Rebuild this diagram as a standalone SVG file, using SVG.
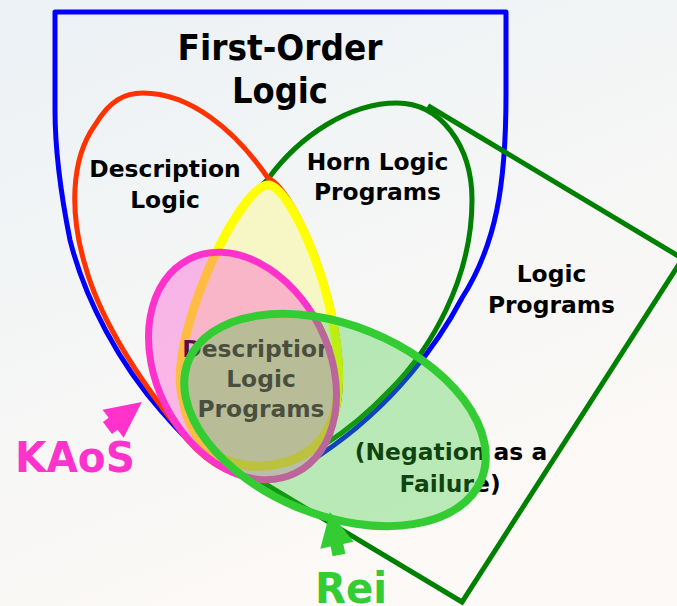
<svg xmlns="http://www.w3.org/2000/svg" width="677" height="606" viewBox="0 0 677 606">
  <defs>
    <!-- page background; shared by shapes that must hide what lies beneath them -->
    <linearGradient id="bg" gradientUnits="userSpaceOnUse" x1="0" y1="0" x2="240" y2="606">
      <stop offset="0" stop-color="#ecf1f5"/>
      <stop offset="0.45" stop-color="#f3f5f5"/>
      <stop offset="1" stop-color="#fcf9f6"/>
    </linearGradient>
    <!-- everything except the KAoS ellipse: outlines stop at its rim -->
    <clipPath id="outside-kaos">
      <path clip-rule="evenodd"
            d="M-10 -10 H690 V620 H-10 Z
               M295.8 473 A86.5 119.5 -26.5 1 1 189.2 259 A86.5 119.5 -26.5 1 1 295.8 473 Z"/>
    </clipPath>
    <style>
      .lbl { font-family: "DejaVu Sans", Verdana, sans-serif; font-weight: bold; text-anchor: middle; fill: #000; }
      .big { font-size: 36px; }
      .mid { font-size: 23.4px; }
      .tag { font-family: "DejaVu Sans", Verdana, sans-serif; font-weight: bold; font-size: 43px; }
      .outline { fill: none; stroke-linejoin: round; }
    </style>
  </defs>

  <rect x="0" y="0" width="677" height="606" fill="url(#bg)"/>

  <!-- First-Order Logic: shield shape -->
  <g id="first-order-logic">
    <path class="outline" stroke="#0000ff" stroke-width="5" stroke-linejoin="miter" clip-path="url(#outside-kaos)"
          d="M55 12 L506 12 L506 95
             C506 185 496 245 462 298
             C440 340 395 405 320 455
             C298 469 282 480 256 479
             C224 477 192 447 163 413
             C120 365 85 300 70 240
             C60 190 55 150 55 110 Z"/>
    <text class="lbl big" x="280" y="60" textLength="205" lengthAdjust="spacingAndGlyphs">First-Order</text>
    <text class="lbl big" x="280" y="103" textLength="96" lengthAdjust="spacingAndGlyphs">Logic</text>
  </g>

  <!-- Logic Programs: tilted rectangle -->
  <g id="logic-programs">
    <polygon points="430,107 682.6,258.6 462,602 209.4,450.4" fill="none" stroke="#008000" stroke-width="5"
             clip-path="url(#outside-kaos)"/>
    <text class="lbl mid" x="551.5" y="282">Logic</text>
    <text class="lbl mid" x="551.5" y="313">Programs</text>
    <text class="lbl mid" x="451" y="460">(Negation as a</text>
    <text class="lbl mid" x="450" y="492">Failure)</text>
  </g>

  <!-- Horn Logic Programs -->
  <g id="horn-logic-programs">
    <path fill="url(#bg)" stroke="#008000" stroke-width="5" clip-path="url(#outside-kaos)"
          d="M397 103 C440 103 472 145 472 200
             C472 280 430 350 390 390
             C350 432 300 466 264 468
             C226 470 192 452 183 400
             C165 340 232 212 268 179
             C300 135 350 103 397 103 Z"/>
    <text class="lbl mid" x="377.5" y="170">Horn Logic</text>
    <text class="lbl mid" x="377.5" y="200">Programs</text>
  </g>

  <!-- Description Logic -->
  <g id="description-logic">
    <path class="outline" stroke="#ff3300" stroke-width="5" clip-path="url(#outside-kaos)"
          d="M143 93 C190 93 235 130 268 178
             C296 190 346 310 340 390
             C337 440 305 476 255 477
             C225 476 200 458 178 428
             C140 380 100 320 85 265
             C70 215 70 160 95 125
             C110 100 125 93 143 93 Z"/>
    <text class="lbl mid" x="165" y="177">Description</text>
    <text class="lbl mid" x="165" y="208">Logic</text>
  </g>

  <!-- Description Logic Programs: intersection lens -->
  <g id="description-logic-programs">
    <path fill="#f7f7c6" stroke="#ffff00" stroke-width="9" stroke-linejoin="round"
          d="M268 185 C292 185 345 310 338 390
             C335 435 312 462 264 466
             C226 468 192 450 183 400
             C165 340 240 185 268 185 Z"/>
    <text class="lbl mid" x="258" y="357">Description</text>
    <text class="lbl mid" x="261" y="387">Logic</text>
    <text class="lbl mid" x="261" y="417">Programs</text>
  </g>

  <!-- KAoS coverage -->
  <g id="kaos">
    <ellipse cx="242.5" cy="366" rx="86.5" ry="119.5" transform="rotate(-26.5 242.5 366)"
             fill="#ff33cc" fill-opacity="0.33" stroke="#ff33cc" stroke-width="7"/>
  </g>

  <!-- Rei coverage -->
  <g id="rei">
    <ellipse cx="335" cy="420" rx="158" ry="95" transform="rotate(22 335 420)"
             fill="#33cc33" fill-opacity="0.33" stroke="#33cc33" stroke-width="8"/>
  </g>

  <!-- pointer arrows from the policy language names -->
  <g id="connectors">
    <polygon fill="#ff33cc" points="43,0 7,-17.5 7,-7.5 0,-7.5 0,7.5 7,7.5 7,17.5"
             transform="translate(107.5 428) rotate(-37)"/>
    <polygon fill="#33cc33" points="44,0 10,-17 10,-6.5 0,-6.5 0,6.5 10,6.5 10,17"
             transform="translate(339 555) rotate(-101.8)"/>
  </g>

  <g id="kaos-label">
    <text class="tag" x="15" y="472" fill="#ff33cc" textLength="120" lengthAdjust="spacingAndGlyphs">KAoS</text>
  </g>
  <g id="rei-label">
    <text class="tag" x="315" y="603" fill="#33cc33" textLength="72" lengthAdjust="spacingAndGlyphs">Rei</text>
  </g>
</svg>
